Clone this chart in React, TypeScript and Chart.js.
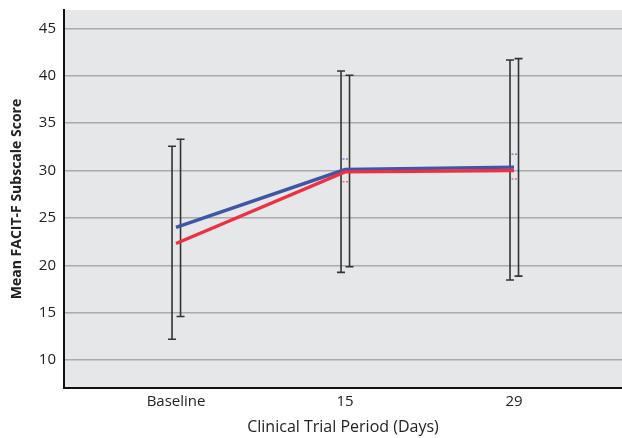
import React, { useEffect, useRef } from "react";
import { Chart, registerables } from "chart.js";
Chart.register(...registerables);

const categories = ["Baseline", "15", "29"];
const blueMeans = [24.0, 30.1, 30.35];
const redMeans = [22.3, 29.85, 30.0];
const redLow = [12.2, 19.25, 18.45];
const redHigh = [32.55, 40.5, 41.65];
const blueLow = [14.6, 19.85, 18.85];
const blueHigh = [33.3, 40.05, 41.8];
const blueMarks = [null, 31.2, 31.7];
const redMarks = [null, 28.8, 29.1];
const yTicks = [10, 15, 20, 25, 30, 35, 40, 45];

const BLUE = "#3d56a8";
const RED = "#ee3142";
const FONT = "'Open Sans', 'DejaVu Sans', sans-serif";

const plotBg = {
  id: "plotBg",
  beforeDraw(chart: any) {
    const { ctx, chartArea: a } = chart;
    ctx.save();
    ctx.fillStyle = "#e6e7e9";
    ctx.fillRect(a.left, a.top, a.right - a.left, a.bottom - a.top);
    ctx.restore();
  },
};

const errorBars = {
  id: "errorBars",
  beforeDatasetsDraw(chart: any) {
    const { ctx } = chart;
    const xs = chart.scales.x;
    const ys = chart.scales.y;
    ctx.save();
    ctx.strokeStyle = "#333333";
    ctx.lineWidth = 1.6;
    const drawBar = (x: number, lo: number, hi: number) => {
      const yl = ys.getPixelForValue(lo);
      const yh = ys.getPixelForValue(hi);
      ctx.beginPath();
      ctx.moveTo(x, yl);
      ctx.lineTo(x, yh);
      ctx.moveTo(x - 4, yl);
      ctx.lineTo(x + 4, yl);
      ctx.moveTo(x - 4, yh);
      ctx.lineTo(x + 4, yh);
      ctx.stroke();
    };
    categories.forEach((_, i) => {
      const cx = xs.getPixelForValue(i);
      drawBar(cx - 4, redLow[i], redHigh[i]);
      drawBar(cx + 4.5, blueLow[i], blueHigh[i]);
    });
    const drawMark = (x: number, v: number | null, color: string) => {
      if (v == null) return;
      const y = ys.getPixelForValue(v);
      ctx.strokeStyle = color;
      ctx.lineWidth = 1.5;
      ctx.setLineDash([2, 1.5]);
      ctx.beginPath();
      ctx.moveTo(x - 2.5, y);
      ctx.lineTo(x + 3, y);
      ctx.stroke();
      ctx.setLineDash([]);
    };
    categories.forEach((_, i) => {
      const cx = xs.getPixelForValue(i);
      drawMark(cx, blueMarks[i], "#6f82cc");
      drawMark(cx, redMarks[i], "#ef6b7a");
    });
    ctx.restore();
  },
};

export default function App() {
  const ref = useRef<HTMLCanvasElement | null>(null);
  useEffect(() => {
    if (!ref.current) return;
    const chart = new Chart(ref.current, {
      type: "line",
      data: {
        datasets: [
          {
            label: "Red",
            data: redMeans.map((v, i) => ({ x: i, y: v })),
            borderColor: RED,
            borderWidth: 3.4,
            pointRadius: 0,
            tension: 0,
          },
          {
            label: "Blue",
            data: blueMeans.map((v, i) => ({ x: i, y: v })),
            borderColor: BLUE,
            borderWidth: 3.4,
            pointRadius: 0,
            tension: 0,
          },
        ],
      },
      options: {
        animation: false,
        responsive: true,
        maintainAspectRatio: false,
        layout: { padding: { top: 10, right: 0, left: 0, bottom: 0 } },
        plugins: { legend: { display: false }, tooltip: { enabled: false } },
        scales: {
          x: {
            type: "linear",
            min: -0.663,
            max: 2.639,
            afterFit(s: any) {
              s.height = 50;
              s.paddingLeft = 0;
              s.paddingRight = 0;
            },
            afterBuildTicks(s: any) {
              s.ticks = categories.map((_, i) => ({ value: i }));
            },
            grid: { display: false, drawTicks: false },
            border: { display: true, color: "#111", width: 2 },
            ticks: {
              padding: 5,
              color: "#222",
              font: { family: FONT, size: 15 },
              callback: (v: any) => categories[v as number] ?? "",
            },
            title: {
              display: true,
              text: "Clinical Trial Period (Days)",
              color: "#222",
              font: { family: FONT, size: 16 },
              padding: { top: 0, bottom: 1 },
            },
          },
          y: {
            type: "linear",
            min: 7.05,
            max: 46.93,
            afterFit(s: any) {
              s.width = 64;
              s.paddingTop = 0;
              s.paddingBottom = 0;
            },
            afterBuildTicks(s: any) {
              s.ticks = yTicks.map((v) => ({ value: v }));
            },
            grid: { color: "#a9aaac", lineWidth: 1.5, drawTicks: false },
            border: { display: true, color: "#111", width: 2 },
            ticks: {
              padding: 8,
              color: "#222",
              font: { family: FONT, size: 15 },
            },
            title: {
              display: true,
              text: "Mean FACIT-F Subscale Score",
              color: "#222",
              font: { family: FONT, size: 14, weight: "bold" },
              padding: { top: 9, bottom: 0 },
            },
          },
        },
      },
      plugins: [plotBg, errorBars],
    });
    return () => chart.destroy();
  }, []);
  return (
    <div style={{ position: "absolute", left: 0, top: 0, width: 622, height: 438 }}>
      <canvas ref={ref} />
    </div>
  );
}
